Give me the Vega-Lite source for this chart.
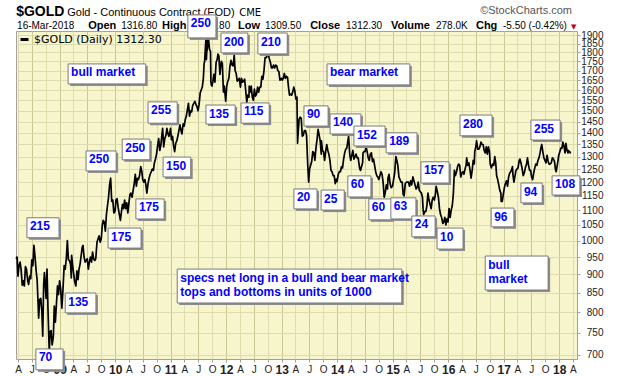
{
  "$schema": "https://vega.github.io/schema/vega-lite/v6.json",
  "width": 561,
  "height": 328,
  "autosize": "none",
  "padding": {"left": 16, "top": 31, "right": 43, "bottom": 17},
  "background": "white",
  "config": {
    "font": "Liberation Sans",
    "view": {"fill": "#F7F5CC", "stroke": "#A0A0A0", "strokeWidth": 1}
  },
  "datasets": {
    "gold": [
      {"date":"2008-03-19","close":945},{"date":"2008-03-26","close":950},{"date":"2008-04-01","close":895},{"date":"2008-04-08","close":925},{"date":"2008-04-15","close":935},{"date":"2008-04-22","close":912},{"date":"2008-04-29","close":870},{"date":"2008-05-06","close":882},{"date":"2008-05-13","close":868},{"date":"2008-05-20","close":922},{"date":"2008-05-27","close":915},{"date":"2008-06-03","close":885},{"date":"2008-06-10","close":872},{"date":"2008-06-17","close":895},{"date":"2008-06-24","close":888},{"date":"2008-07-01","close":942},{"date":"2008-07-08","close":925},{"date":"2008-07-15","close":985},{"date":"2008-07-22","close":952},{"date":"2008-07-29","close":912},{"date":"2008-08-05","close":885},{"date":"2008-08-12","close":815},{"date":"2008-08-15","close":785},{"date":"2008-08-22","close":832},{"date":"2008-08-29","close":835},{"date":"2008-09-05","close":802},{"date":"2008-09-11","close":742},{"date":"2008-09-17","close":872},{"date":"2008-09-22","close":905},{"date":"2008-09-26","close":882},{"date":"2008-10-03","close":835},{"date":"2008-10-09","close":915},{"date":"2008-10-16","close":800},{"date":"2008-10-24","close":705},{"date":"2008-10-29","close":752},{"date":"2008-11-05","close":755},{"date":"2008-11-12","close":722},{"date":"2008-11-20","close":742},{"date":"2008-11-26","close":815},{"date":"2008-12-03","close":775},{"date":"2008-12-10","close":820},{"date":"2008-12-17","close":868},{"date":"2008-12-24","close":845},{"date":"2008-12-31","close":882},
      {"date":"2009-01-07","close":860},{"date":"2009-01-15","close":810},{"date":"2009-01-22","close":858},{"date":"2009-01-30","close":925},{"date":"2009-02-06","close":915},{"date":"2009-02-13","close":945},{"date":"2009-02-20","close":1000},{"date":"2009-02-27","close":942},{"date":"2009-03-06","close":940},{"date":"2009-03-13","close":928},{"date":"2009-03-18","close":890},{"date":"2009-03-20","close":955},{"date":"2009-03-27","close":925},{"date":"2009-04-03","close":900},{"date":"2009-04-09","close":880},{"date":"2009-04-17","close":868},{"date":"2009-04-24","close":910},{"date":"2009-05-01","close":885},{"date":"2009-05-08","close":915},{"date":"2009-05-15","close":930},{"date":"2009-05-22","close":955},{"date":"2009-05-29","close":980},{"date":"2009-06-03","close":985},{"date":"2009-06-10","close":950},{"date":"2009-06-17","close":935},{"date":"2009-06-24","close":940},{"date":"2009-07-01","close":945},{"date":"2009-07-08","close":915},{"date":"2009-07-15","close":935},{"date":"2009-07-22","close":950},{"date":"2009-07-29","close":935},{"date":"2009-08-05","close":965},{"date":"2009-08-12","close":945},{"date":"2009-08-19","close":940},{"date":"2009-08-26","close":945},{"date":"2009-09-03","close":995},{"date":"2009-09-10","close":1005},{"date":"2009-09-17","close":1015},{"date":"2009-09-24","close":995},{"date":"2009-10-01","close":1005},{"date":"2009-10-08","close":1050},{"date":"2009-10-14","close":1065},{"date":"2009-10-21","close":1060},{"date":"2009-10-28","close":1030},{"date":"2009-11-04","close":1085},{"date":"2009-11-11","close":1115},{"date":"2009-11-18","close":1145},{"date":"2009-11-25","close":1190},{"date":"2009-12-02","close":1215},{"date":"2009-12-09","close":1130},{"date":"2009-12-16","close":1135},{"date":"2009-12-23","close":1090},{"date":"2009-12-31","close":1096},
      {"date":"2010-01-06","close":1135},{"date":"2010-01-13","close":1140},{"date":"2010-01-20","close":1110},{"date":"2010-01-28","close":1085},{"date":"2010-02-04","close":1065},{"date":"2010-02-11","close":1095},{"date":"2010-02-18","close":1120},{"date":"2010-02-25","close":1105},{"date":"2010-03-04","close":1135},{"date":"2010-03-11","close":1105},{"date":"2010-03-18","close":1125},{"date":"2010-03-25","close":1090},{"date":"2010-04-01","close":1125},{"date":"2010-04-08","close":1155},{"date":"2010-04-15","close":1160},{"date":"2010-04-22","close":1145},{"date":"2010-04-29","close":1170},{"date":"2010-05-06","close":1195},{"date":"2010-05-13","close":1230},{"date":"2010-05-20","close":1185},{"date":"2010-05-27","close":1215},{"date":"2010-06-03","close":1210},{"date":"2010-06-10","close":1225},{"date":"2010-06-18","close":1260},{"date":"2010-06-24","close":1245},{"date":"2010-07-01","close":1210},{"date":"2010-07-08","close":1200},{"date":"2010-07-15","close":1210},{"date":"2010-07-22","close":1190},{"date":"2010-07-28","close":1160},{"date":"2010-08-05","close":1195},{"date":"2010-08-12","close":1215},{"date":"2010-08-19","close":1230},{"date":"2010-08-26","close":1240},{"date":"2010-09-02","close":1250},{"date":"2010-09-09","close":1245},{"date":"2010-09-16","close":1275},{"date":"2010-09-23","close":1290},{"date":"2010-09-30","close":1310},{"date":"2010-10-07","close":1345},{"date":"2010-10-14","close":1375},{"date":"2010-10-21","close":1325},{"date":"2010-10-28","close":1345},{"date":"2010-11-04","close":1390},{"date":"2010-11-09","close":1420},{"date":"2010-11-16","close":1340},{"date":"2010-11-23","close":1375},{"date":"2010-12-01","close":1390},{"date":"2010-12-07","close":1420},{"date":"2010-12-14","close":1395},{"date":"2010-12-21","close":1385},{"date":"2010-12-31","close":1420},
      {"date":"2011-01-06","close":1370},{"date":"2011-01-13","close":1385},{"date":"2011-01-20","close":1345},{"date":"2011-01-27","close":1320},{"date":"2011-02-03","close":1355},{"date":"2011-02-10","close":1365},{"date":"2011-02-17","close":1385},{"date":"2011-02-24","close":1410},{"date":"2011-03-03","close":1435},{"date":"2011-03-10","close":1410},{"date":"2011-03-16","close":1395},{"date":"2011-03-24","close":1440},{"date":"2011-03-31","close":1430},{"date":"2011-04-07","close":1460},{"date":"2011-04-14","close":1475},{"date":"2011-04-21","close":1505},{"date":"2011-04-28","close":1535},{"date":"2011-05-05","close":1475},{"date":"2011-05-12","close":1500},{"date":"2011-05-19","close":1495},{"date":"2011-05-26","close":1525},{"date":"2011-06-02","close":1535},{"date":"2011-06-09","close":1545},{"date":"2011-06-16","close":1530},{"date":"2011-06-23","close":1520},{"date":"2011-06-30","close":1500},{"date":"2011-07-07","close":1530},{"date":"2011-07-14","close":1585},{"date":"2011-07-21","close":1600},{"date":"2011-07-28","close":1615},{"date":"2011-08-04","close":1660},{"date":"2011-08-09","close":1740},{"date":"2011-08-12","close":1745},{"date":"2011-08-19","close":1850},{"date":"2011-08-22","close":1890},{"date":"2011-08-24","close":1760},{"date":"2011-08-26","close":1800},{"date":"2011-08-31","close":1825},{"date":"2011-09-06","close":1920},{"date":"2011-09-09","close":1855},{"date":"2011-09-14","close":1815},{"date":"2011-09-20","close":1805},{"date":"2011-09-23","close":1640},{"date":"2011-09-26","close":1625},{"date":"2011-09-30","close":1620},{"date":"2011-10-06","close":1645},{"date":"2011-10-12","close":1680},{"date":"2011-10-19","close":1640},{"date":"2011-10-27","close":1745},{"date":"2011-11-03","close":1760},{"date":"2011-11-08","close":1790},{"date":"2011-11-14","close":1780},{"date":"2011-11-21","close":1680},{"date":"2011-11-30","close":1750},{"date":"2011-12-07","close":1740},{"date":"2011-12-14","close":1590},{"date":"2011-12-20","close":1620},{"date":"2011-12-29","close":1545},
      {"date":"2012-01-05","close":1620},{"date":"2012-01-12","close":1645},{"date":"2012-01-19","close":1660},{"date":"2012-01-26","close":1725},{"date":"2012-02-02","close":1755},{"date":"2012-02-09","close":1730},{"date":"2012-02-16","close":1725},{"date":"2012-02-23","close":1785},{"date":"2012-02-29","close":1700},{"date":"2012-03-07","close":1685},{"date":"2012-03-14","close":1645},{"date":"2012-03-21","close":1650},{"date":"2012-03-28","close":1660},{"date":"2012-04-04","close":1615},{"date":"2012-04-11","close":1660},{"date":"2012-04-18","close":1640},{"date":"2012-04-25","close":1645},{"date":"2012-05-02","close":1655},{"date":"2012-05-09","close":1595},{"date":"2012-05-16","close":1540},{"date":"2012-05-22","close":1575},{"date":"2012-05-30","close":1565},{"date":"2012-06-01","close":1620},{"date":"2012-06-07","close":1590},{"date":"2012-06-14","close":1620},{"date":"2012-06-21","close":1565},{"date":"2012-06-28","close":1550},{"date":"2012-07-05","close":1605},{"date":"2012-07-12","close":1570},{"date":"2012-07-19","close":1580},{"date":"2012-07-26","close":1615},{"date":"2012-08-02","close":1590},{"date":"2012-08-09","close":1615},{"date":"2012-08-16","close":1615},{"date":"2012-08-23","close":1670},{"date":"2012-08-30","close":1655},{"date":"2012-09-06","close":1700},{"date":"2012-09-13","close":1770},{"date":"2012-09-20","close":1770},{"date":"2012-09-27","close":1780},{"date":"2012-10-04","close":1795},{"date":"2012-10-11","close":1765},{"date":"2012-10-18","close":1745},{"date":"2012-10-25","close":1715},{"date":"2012-11-01","close":1715},{"date":"2012-11-08","close":1730},{"date":"2012-11-15","close":1715},{"date":"2012-11-22","close":1730},{"date":"2012-11-29","close":1725},{"date":"2012-12-06","close":1700},{"date":"2012-12-13","close":1695},{"date":"2012-12-20","close":1650},{"date":"2012-12-28","close":1660},
      {"date":"2013-01-04","close":1650},{"date":"2013-01-11","close":1660},{"date":"2013-01-18","close":1685},{"date":"2013-01-25","close":1660},{"date":"2013-02-01","close":1670},{"date":"2013-02-08","close":1665},{"date":"2013-02-15","close":1610},{"date":"2013-02-21","close":1575},{"date":"2013-02-28","close":1580},{"date":"2013-03-07","close":1575},{"date":"2013-03-14","close":1590},{"date":"2013-03-21","close":1615},{"date":"2013-03-28","close":1595},{"date":"2013-04-04","close":1555},{"date":"2013-04-11","close":1565},{"date":"2013-04-12","close":1500},{"date":"2013-04-15","close":1355},{"date":"2013-04-18","close":1390},{"date":"2013-04-25","close":1460},{"date":"2013-05-02","close":1470},{"date":"2013-05-09","close":1465},{"date":"2013-05-16","close":1385},{"date":"2013-05-23","close":1390},{"date":"2013-05-30","close":1410},{"date":"2013-06-06","close":1410},{"date":"2013-06-13","close":1390},{"date":"2013-06-20","close":1280},{"date":"2013-06-27","close":1200},{"date":"2013-07-03","close":1250},{"date":"2013-07-10","close":1265},{"date":"2013-07-17","close":1280},{"date":"2013-07-24","close":1320},{"date":"2013-07-31","close":1315},{"date":"2013-08-07","close":1285},{"date":"2013-08-14","close":1335},{"date":"2013-08-21","close":1370},{"date":"2013-08-28","close":1415},{"date":"2013-09-04","close":1390},{"date":"2013-09-11","close":1365},{"date":"2013-09-18","close":1310},{"date":"2013-09-19","close":1365},{"date":"2013-09-26","close":1325},{"date":"2013-10-03","close":1320},{"date":"2013-10-10","close":1285},{"date":"2013-10-17","close":1320},{"date":"2013-10-24","close":1350},{"date":"2013-10-31","close":1325},{"date":"2013-11-07","close":1310},{"date":"2013-11-14","close":1285},{"date":"2013-11-21","close":1245},{"date":"2013-11-28","close":1240},{"date":"2013-12-05","close":1225},{"date":"2013-12-12","close":1225},{"date":"2013-12-19","close":1195},{"date":"2013-12-27","close":1212},{"date":"2013-12-31","close":1202},
      {"date":"2014-01-08","close":1230},{"date":"2014-01-15","close":1240},{"date":"2014-01-22","close":1240},{"date":"2014-01-29","close":1260},{"date":"2014-02-05","close":1255},{"date":"2014-02-12","close":1290},{"date":"2014-02-19","close":1315},{"date":"2014-02-26","close":1330},{"date":"2014-03-05","close":1335},{"date":"2014-03-12","close":1365},{"date":"2014-03-17","close":1385},{"date":"2014-03-24","close":1310},{"date":"2014-03-31","close":1285},{"date":"2014-04-07","close":1305},{"date":"2014-04-14","close":1325},{"date":"2014-04-21","close":1290},{"date":"2014-04-28","close":1300},{"date":"2014-05-05","close":1310},{"date":"2014-05-12","close":1295},{"date":"2014-05-19","close":1295},{"date":"2014-05-28","close":1255},{"date":"2014-06-03","close":1245},{"date":"2014-06-10","close":1260},{"date":"2014-06-17","close":1275},{"date":"2014-06-20","close":1315},{"date":"2014-06-27","close":1320},{"date":"2014-07-03","close":1320},{"date":"2014-07-10","close":1340},{"date":"2014-07-17","close":1320},{"date":"2014-07-24","close":1295},{"date":"2014-07-31","close":1285},{"date":"2014-08-07","close":1310},{"date":"2014-08-14","close":1315},{"date":"2014-08-21","close":1280},{"date":"2014-08-28","close":1290},{"date":"2014-09-04","close":1265},{"date":"2014-09-11","close":1240},{"date":"2014-09-18","close":1225},{"date":"2014-09-25","close":1220},{"date":"2014-10-02","close":1210},{"date":"2014-10-09","close":1225},{"date":"2014-10-16","close":1240},{"date":"2014-10-23","close":1230},{"date":"2014-10-30","close":1200},{"date":"2014-11-06","close":1145},{"date":"2014-11-13","close":1160},{"date":"2014-11-20","close":1190},{"date":"2014-11-28","close":1175},{"date":"2014-12-01","close":1215},{"date":"2014-12-08","close":1230},{"date":"2014-12-15","close":1195},{"date":"2014-12-22","close":1180},{"date":"2014-12-31","close":1185},
      {"date":"2015-01-07","close":1210},{"date":"2015-01-14","close":1235},{"date":"2015-01-22","close":1300},{"date":"2015-01-28","close":1285},{"date":"2015-02-04","close":1265},{"date":"2015-02-11","close":1220},{"date":"2015-02-18","close":1210},{"date":"2015-02-25","close":1200},{"date":"2015-03-05","close":1200},{"date":"2015-03-11","close":1155},{"date":"2015-03-17","close":1150},{"date":"2015-03-25","close":1195},{"date":"2015-04-01","close":1200},{"date":"2015-04-08","close":1200},{"date":"2015-04-15","close":1200},{"date":"2015-04-22","close":1185},{"date":"2015-04-29","close":1205},{"date":"2015-05-06","close":1190},{"date":"2015-05-14","close":1220},{"date":"2015-05-21","close":1205},{"date":"2015-05-28","close":1190},{"date":"2015-06-04","close":1175},{"date":"2015-06-11","close":1180},{"date":"2015-06-18","close":1200},{"date":"2015-06-25","close":1170},{"date":"2015-07-02","close":1165},{"date":"2015-07-09","close":1160},{"date":"2015-07-16","close":1145},{"date":"2015-07-20","close":1105},{"date":"2015-07-24","close":1085},{"date":"2015-07-31","close":1095},{"date":"2015-08-07","close":1095},{"date":"2015-08-14","close":1115},{"date":"2015-08-21","close":1160},{"date":"2015-08-28","close":1135},{"date":"2015-09-04","close":1120},{"date":"2015-09-11","close":1105},{"date":"2015-09-18","close":1135},{"date":"2015-09-25","close":1145},{"date":"2015-10-02","close":1135},{"date":"2015-10-09","close":1155},{"date":"2015-10-14","close":1185},{"date":"2015-10-22","close":1165},{"date":"2015-10-29","close":1145},{"date":"2015-11-05","close":1105},{"date":"2015-11-12","close":1085},{"date":"2015-11-19","close":1075},{"date":"2015-11-27","close":1055},{"date":"2015-12-03","close":1060},{"date":"2015-12-10","close":1075},{"date":"2015-12-17","close":1050},{"date":"2015-12-24","close":1070},{"date":"2015-12-31","close":1060},
      {"date":"2016-01-07","close":1105},{"date":"2016-01-14","close":1075},{"date":"2016-01-21","close":1100},{"date":"2016-01-28","close":1115},{"date":"2016-02-04","close":1155},{"date":"2016-02-11","close":1245},{"date":"2016-02-18","close":1225},{"date":"2016-02-25","close":1240},{"date":"2016-03-03","close":1260},{"date":"2016-03-10","close":1270},{"date":"2016-03-17","close":1265},{"date":"2016-03-24","close":1220},{"date":"2016-03-31","close":1235},{"date":"2016-04-07","close":1240},{"date":"2016-04-14","close":1230},{"date":"2016-04-21","close":1250},{"date":"2016-04-28","close":1265},{"date":"2016-05-02","close":1295},{"date":"2016-05-09","close":1265},{"date":"2016-05-16","close":1275},{"date":"2016-05-23","close":1250},{"date":"2016-05-31","close":1215},{"date":"2016-06-07","close":1245},{"date":"2016-06-14","close":1285},{"date":"2016-06-21","close":1270},{"date":"2016-06-24","close":1320},{"date":"2016-07-01","close":1340},{"date":"2016-07-06","close":1365},{"date":"2016-07-14","close":1330},{"date":"2016-07-21","close":1330},{"date":"2016-07-28","close":1340},{"date":"2016-08-04","close":1360},{"date":"2016-08-11","close":1350},{"date":"2016-08-18","close":1350},{"date":"2016-08-25","close":1325},{"date":"2016-09-01","close":1315},{"date":"2016-09-08","close":1340},{"date":"2016-09-15","close":1310},{"date":"2016-09-22","close":1340},{"date":"2016-09-29","close":1320},{"date":"2016-10-04","close":1270},{"date":"2016-10-11","close":1255},{"date":"2016-10-20","close":1270},{"date":"2016-10-27","close":1265},{"date":"2016-11-03","close":1300},{"date":"2016-11-09","close":1275},{"date":"2016-11-15","close":1225},{"date":"2016-11-22","close":1210},{"date":"2016-11-29","close":1190},{"date":"2016-12-06","close":1170},{"date":"2016-12-13","close":1160},{"date":"2016-12-15","close":1130},{"date":"2016-12-22","close":1130},{"date":"2016-12-29","close":1155},
      {"date":"2017-01-05","close":1180},{"date":"2017-01-12","close":1195},{"date":"2017-01-19","close":1205},{"date":"2017-01-26","close":1185},{"date":"2017-02-02","close":1220},{"date":"2017-02-09","close":1235},{"date":"2017-02-16","close":1240},{"date":"2017-02-23","close":1250},{"date":"2017-02-27","close":1260},{"date":"2017-03-03","close":1225},{"date":"2017-03-09","close":1200},{"date":"2017-03-15","close":1220},{"date":"2017-03-22","close":1245},{"date":"2017-03-29","close":1250},{"date":"2017-04-05","close":1255},{"date":"2017-04-13","close":1285},{"date":"2017-04-17","close":1290},{"date":"2017-04-24","close":1275},{"date":"2017-05-01","close":1255},{"date":"2017-05-09","close":1225},{"date":"2017-05-16","close":1235},{"date":"2017-05-23","close":1255},{"date":"2017-05-31","close":1270},{"date":"2017-06-06","close":1295},{"date":"2017-06-13","close":1265},{"date":"2017-06-20","close":1245},{"date":"2017-06-27","close":1245},{"date":"2017-07-03","close":1220},{"date":"2017-07-10","close":1210},{"date":"2017-07-17","close":1235},{"date":"2017-07-24","close":1255},{"date":"2017-07-31","close":1270},{"date":"2017-08-07","close":1265},{"date":"2017-08-14","close":1285},{"date":"2017-08-21","close":1295},{"date":"2017-08-28","close":1315},{"date":"2017-09-01","close":1330},{"date":"2017-09-08","close":1350},{"date":"2017-09-15","close":1320},{"date":"2017-09-22","close":1295},{"date":"2017-09-29","close":1285},{"date":"2017-10-06","close":1275},{"date":"2017-10-13","close":1305},{"date":"2017-10-20","close":1280},{"date":"2017-10-27","close":1270},{"date":"2017-11-03","close":1270},{"date":"2017-11-10","close":1275},{"date":"2017-11-17","close":1295},{"date":"2017-11-24","close":1290},{"date":"2017-12-01","close":1280},{"date":"2017-12-07","close":1250},{"date":"2017-12-12","close":1240},{"date":"2017-12-19","close":1265},{"date":"2017-12-29","close":1305},
      {"date":"2018-01-05","close":1320},{"date":"2018-01-12","close":1335},{"date":"2018-01-19","close":1335},{"date":"2018-01-25","close":1360},{"date":"2018-02-01","close":1345},{"date":"2018-02-08","close":1315},{"date":"2018-02-14","close":1355},{"date":"2018-02-21","close":1325},{"date":"2018-02-28","close":1315},{"date":"2018-03-02","close":1325},{"date":"2018-03-08","close":1320},{"date":"2018-03-12","close":1320},{"date":"2018-03-16","close":1312.3}
    ],
    "header": [
      {"part":"symbol","text":"$GOLD","at":"2008-03-20","level":2016},
      {"part":"name","text":"Gold - Continuous Contract (EOD)","at":"2009-02-19","level":2016},
      {"part":"exchange","text":"CME","at":"2012-03-27","level":2016},
      {"part":"site","text":"©StockCharts.com","at":"2018-03-26","level":2030},
      {"part":"field","text":"Open","at":"2009-07-07","level":1936},
      {"part":"field","text":"High","at":"2010-11-05","level":1936},
      {"part":"field","text":"Low","at":"2012-03-19","level":1936},
      {"part":"field","text":"Close","at":"2013-07-07","level":1936},
      {"part":"field","text":"Volume","at":"2014-12-21","level":1936},
      {"part":"field","text":"Chg","at":"2016-07-02","level":1936},
      {"part":"value","text":"16-Mar-2018","at":"2008-03-26","level":1936},
      {"part":"value","text":"1316.80","at":"2010-02-09","level":1936},
      {"part":"value","text":"1346.80","at":"2011-06-04","level":1936},
      {"part":"value","text":"1309.50","at":"2012-09-13","level":1936},
      {"part":"value","text":"1312.30","at":"2014-02-28","level":1936},
      {"part":"value","text":"278.0K","at":"2015-10-13","level":1936},
      {"part":"value","text":"-5.50 (-0.42%)","at":"2016-12-27","level":1936},
      {"part":"arrow","text":"▼","at":"2018-03-19","level":1936}
    ],
    "notes": [
      {"label":"specs net long in a bull and bear market\ntops and bottoms in units of 1000","start":"2011-02-13","end":"2015-03-02","top":915,"bottom":823},
      {"label":"bull\nmarket","start":"2016-09-01","end":"2017-10-20","top":953,"bottom":857},
      {"label":"bull market","start":"2009-02-25","end":"2010-07-21","top":1736,"bottom":1631},
      {"label":"bear market","start":"2013-10-26","end":"2015-04-24","top":1736,"bottom":1626},
      {"label":"215","start":"2008-05-30","end":"2008-12-27","top":1074,"bottom":1009},
      {"label":"70","start":"2008-07-28","end":"2009-01-23","top":713,"bottom":668},
      {"label":"135","start":"2009-02-06","end":"2009-08-27","top":849,"bottom":798},
      {"label":"250","start":"2009-06-23","end":"2010-01-07","top":1323,"bottom":1243},
      {"label":"175","start":"2009-11-15","end":"2010-06-20","top":1040,"bottom":977},
      {"label":"250","start":"2010-02-16","end":"2010-08-17","top":1373,"bottom":1287},
      {"label":"175","start":"2010-05-17","end":"2010-11-19","top":1139,"bottom":1070},
      {"label":"255","start":"2010-08-05","end":"2011-02-13","top":1542,"bottom":1443},
      {"label":"150","start":"2010-11-12","end":"2011-05-13","top":1298,"bottom":1220},
      {"label":"250","start":"2011-04-24","end":"2011-10-26","top":2023,"bottom":1883},
      {"label":"135","start":"2011-08-21","end":"2012-02-29","top":1527,"bottom":1439},
      {"label":"200","start":"2011-11-28","end":"2012-05-23","top":1912,"bottom":1797},
      {"label":"115","start":"2012-04-08","end":"2012-10-10","top":1537,"bottom":1443},
      {"label":"210","start":"2012-07-28","end":"2013-02-06","top":1912,"bottom":1791},
      {"label":"20","start":"2013-03-22","end":"2013-08-21","top":1175,"bottom":1104},
      {"label":"90","start":"2013-05-27","end":"2013-11-02","top":1523,"bottom":1430},
      {"label":"25","start":"2013-09-17","end":"2014-02-16","top":1171,"bottom":1100},
      {"label":"140","start":"2013-11-15","end":"2014-06-06","top":1485,"bottom":1395},
      {"label":"60","start":"2014-03-12","end":"2014-08-11","top":1224,"bottom":1146},
      {"label":"152","start":"2014-04-21","end":"2014-11-12","top":1430,"bottom":1344},
      {"label":"60","start":"2014-07-28","end":"2014-12-27","top":1139,"bottom":1067},
      {"label":"189","start":"2014-11-19","end":"2015-06-10","top":1400,"bottom":1315},
      {"label":"63","start":"2014-12-20","end":"2015-06-03","top":1143,"bottom":1070},
      {"label":"24","start":"2015-05-07","end":"2015-10-07","top":1080,"bottom":1012},
      {"label":"157","start":"2015-07-06","end":"2016-01-07","top":1279,"bottom":1197},
      {"label":"10","start":"2015-10-20","end":"2016-04-08","top":1040,"bottom":974},
      {"label":"280","start":"2016-03-19","end":"2016-10-16","top":1480,"bottom":1387},
      {"label":"96","start":"2016-10-10","end":"2017-03-09","top":1107,"bottom":1044},
      {"label":"94","start":"2017-04-24","end":"2017-09-11","top":1197,"bottom":1125},
      {"label":"255","start":"2017-06-29","end":"2018-01-07","top":1457,"bottom":1369},
      {"label":"108","start":"2017-11-15","end":"2018-05-17","top":1224,"bottom":1153}
    ]
  },
  "layer": [
    {
      "data": {"name": "gold"},
      "mark": {"type": "line", "strokeWidth": 1.7, "strokeJoin": "round"},
      "encoding": {
        "x": {
          "field": "date", "type": "temporal", "title": null,
          "scale": {"type": "utc", "domain": [{"year": 2008, "month": 3, "date": 19, "utc": true}, {"year": 2018, "month": 4, "date": 28, "utc": true}]},
          "axis": {
            "orient": "bottom",
            "tickCount": {"interval": "month", "step": 3},
            "labelExpr": "utcmonth(datum.value) == 0 ? utcFormat(datum.value, '%y') : substring(utcFormat(datum.value, '%b'), 0, 1)",
            "labelFontWeight": {"condition": {"test": "utcmonth(datum.value) == 0", "value": "bold"}, "value": "normal"},
            "labelFontSize": {"condition": {"test": "utcmonth(datum.value) == 0", "value": 12}, "value": 10},
            "labelOverlap": false, "labelFlush": false, "labelPadding": 2,
            "labelColor": "#222222", "labelFont": "Liberation Sans",
            "tickSize": 3, "tickColor": "#A0A0A0", "domain": false,
            "grid": true,
            "gridColor": {"condition": {"test": "utcmonth(datum.value) % 6 == 0", "value": "#C9C794"}, "value": "#DEDCAE"},
            "gridWidth": 1
          }
        },
        "y": {
          "field": "close", "type": "quantitative", "title": null,
          "scale": {"type": "log", "domain": [691, 1924], "nice": false, "zero": false},
          "axis": {
            "orient": "right",
            "values": [700,750,800,850,900,950,1000,1050,1100,1150,1200,1250,1300,1350,1400,1450,1500,1550,1600,1650,1700,1750,1800,1850,1900],
            "format": "d", "labelAlign": "right", "labelPadding": 23, "labelOverlap": false,
            "labelFontSize": 10, "labelColor": "#222222", "labelBound": false, "labelFont": "Liberation Sans",
            "tickSize": 3, "tickColor": "#A0A0A0", "domain": false,
            "grid": true, "gridColor": "#DEDCAE", "gridWidth": 1
          }
        },
        "color": {
          "datum": "$GOLD (Daily) 1312.30",
          "scale": {"range": ["#000000"]},
          "legend": {
            "orient": "top-left", "offset": 3, "title": null, "padding": 0,
            "symbolType": "stroke", "symbolStrokeWidth": 3, "symbolSize": 64,
            "labelFont": "DejaVu Sans", "labelFontSize": 11, "labelColor": "#000000", "labelOffset": 4
          }
        }
      }
    },
    {
      "data": {"name": "header"},
      "transform": [{"filter": "datum.part == 'name'"}],
      "mark": {"type": "text", "align": "left", "baseline": "alphabetic", "font": "Liberation Sans", "fontSize": 11, "color": "#000000"},
      "encoding": {"x": {"field": "at", "type": "temporal", "title": null}, "y": {"field": "level", "type": "quantitative", "title": null}, "text": {"field": "text"}}
    },
    {
      "data": {"name": "header"},
      "transform": [{"filter": "datum.part == 'exchange'"}],
      "mark": {"type": "text", "align": "left", "baseline": "alphabetic", "font": "DejaVu Sans", "fontSize": 10, "color": "#000000"},
      "encoding": {"x": {"field": "at", "type": "temporal", "title": null}, "y": {"field": "level", "type": "quantitative", "title": null}, "text": {"field": "text"}}
    },
    {
      "data": {"name": "header"},
      "transform": [{"filter": "datum.part == 'site'"}],
      "mark": {"type": "text", "align": "right", "baseline": "alphabetic", "font": "Liberation Sans", "fontSize": 11, "color": "#555555"},
      "encoding": {"x": {"field": "at", "type": "temporal", "title": null}, "y": {"field": "level", "type": "quantitative", "title": null}, "text": {"field": "text"}}
    },
    {
      "data": {"name": "header"},
      "transform": [{"filter": "datum.part == 'field' || datum.part == 'symbol'"}],
      "mark": {"type": "text", "align": "left", "baseline": "alphabetic", "font": "Liberation Sans", "fontWeight": "bold", "color": "#000000"},
      "encoding": {
        "x": {"field": "at", "type": "temporal", "title": null},
        "y": {"field": "level", "type": "quantitative", "title": null},
        "text": {"field": "text"},
        "size": {"condition": {"test": "datum.part == 'symbol'", "value": 14}, "value": 11}
      }
    },
    {
      "data": {"name": "header"},
      "transform": [{"filter": "datum.part == 'value'"}],
      "mark": {"type": "text", "align": "left", "baseline": "alphabetic", "font": "Liberation Sans", "fontSize": 10, "color": "#000000"},
      "encoding": {"x": {"field": "at", "type": "temporal", "title": null}, "y": {"field": "level", "type": "quantitative", "title": null}, "text": {"field": "text"}}
    },
    {
      "data": {"name": "header"},
      "transform": [{"filter": "datum.part == 'arrow'"}],
      "mark": {"type": "text", "align": "left", "baseline": "alphabetic", "font": "DejaVu Sans", "fontSize": 7, "color": "#C00020"},
      "encoding": {"x": {"field": "at", "type": "temporal", "title": null}, "y": {"field": "level", "type": "quantitative", "title": null}, "text": {"field": "text"}}
    },
    {
      "data": {"name": "notes"},
      "mark": {"type": "rect", "fill": "#8C8C8C", "xOffset": 2, "x2Offset": 2, "yOffset": 2, "y2Offset": 2},
      "encoding": {
        "x": {"field": "start", "type": "temporal", "title": null},
        "x2": {"field": "end"},
        "y": {"field": "top", "type": "quantitative", "title": null},
        "y2": {"field": "bottom"}
      }
    },
    {
      "data": {"name": "notes"},
      "mark": {"type": "rect", "fill": "#FFFFFF", "stroke": "#7A7A7A", "strokeWidth": 1},
      "encoding": {
        "x": {"field": "start", "type": "temporal", "title": null},
        "x2": {"field": "end"},
        "y": {"field": "top", "type": "quantitative", "title": null},
        "y2": {"field": "bottom"}
      }
    },
    {
      "data": {"name": "notes"},
      "mark": {"type": "text", "align": "left", "baseline": "top", "dx": 3, "dy": 3.5, "font": "Liberation Sans", "fontWeight": "bold", "fontSize": 12, "color": "#0000FF", "lineBreak": "\n", "lineHeight": 14},
      "encoding": {
        "x": {"field": "start", "type": "temporal", "title": null},
        "y": {"field": "top", "type": "quantitative", "title": null},
        "text": {"field": "label"}
      }
    }
  ]
}
